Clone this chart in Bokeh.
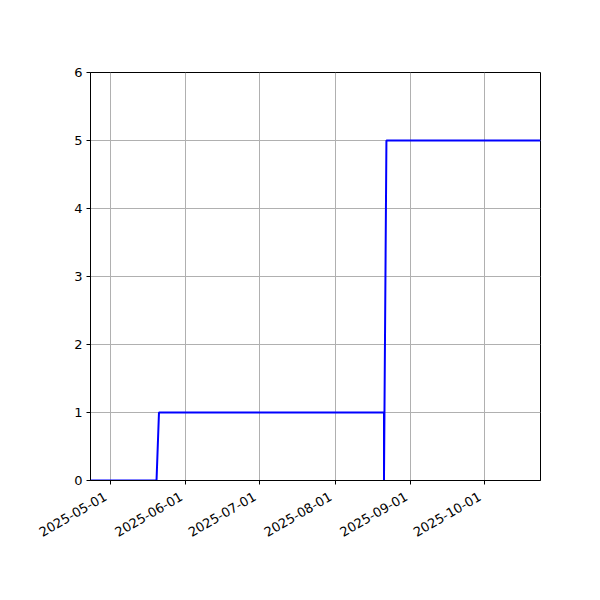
import math
from datetime import datetime
from bokeh.plotting import figure
from bokeh.models import Range1d, FixedTicker, LinearAxis
from bokeh.embed import file_html
from bokeh.resources import INLINE

# data
dates = ["2025-04-23", "2025-05-20", "2025-05-21", "2025-08-21",
         "2025-08-21", "2025-08-22", "2025-10-24"]
values = [0, 0, 1, 1, 0, 5, 5]
x_ticks = ["2025-05-01", "2025-06-01", "2025-07-01", "2025-08-01",
           "2025-09-01", "2025-10-01"]
y_ticks = [0, 1, 2, 3, 4, 5, 6]

xs = [datetime.strptime(d, "%Y-%m-%d") for d in dates]
tick_ms = [datetime.strptime(d, "%Y-%m-%d").timestamp() * 1000 for d in x_ticks]

p = figure(x_axis_type="datetime", x_axis_location=None,
           output_backend="svg", toolbar_location=None,
           frame_width=450, frame_height=408,
           min_border_left=90, min_border_top=72, min_border_right=40,
           min_border_bottom=100,
           x_range=Range1d(xs[0], xs[-1]), y_range=Range1d(0, 6))

p.line(xs, values, line_color="#0000ff", line_width=2)

p.background_fill_color = "white"
p.border_fill_color = "white"
p.outline_line_color = "black"
p.outline_line_width = 1
p.outline_line_alpha = 1

p.xgrid.ticker = FixedTicker(ticks=tick_ms)
for g in (p.xgrid, p.ygrid):
    g.grid_line_color = "#b0b0b0"
    g.grid_line_width = 1

# x tick marks only (drawn as unlabelled minor ticks)
tick_axis = LinearAxis(ticker=FixedTicker(ticks=[], minor_ticks=tick_ms))
tick_axis.axis_line_color = "black"
tick_axis.major_tick_line_color = None
tick_axis.minor_tick_line_color = "black"
tick_axis.minor_tick_in = 0
tick_axis.minor_tick_out = 4
tick_axis.major_label_standoff = 0
p.add_layout(tick_axis, "below")

# x tick labels, anchored like matplotlib's rotated right-aligned text
shift = 1.8 * 86400000
label_ticks = [t - shift for t in tick_ms]
lab_axis = LinearAxis(ticker=FixedTicker(ticks=label_ticks),
                      major_label_overrides={t: s for t, s in zip(label_ticks, x_ticks)})
lab_axis.axis_line_color = None
lab_axis.major_tick_line_color = None
lab_axis.minor_tick_line_color = None
lab_axis.major_tick_in = 0
lab_axis.major_tick_out = 0
lab_axis.major_label_orientation = math.pi / 6
lab_axis.major_label_text_font = "DejaVu Sans"
lab_axis.major_label_text_font_size = "13px"
lab_axis.major_label_text_color = "black"
lab_axis.major_label_standoff = 11
p.add_layout(lab_axis, "below")

ya = p.yaxis
ya.ticker = FixedTicker(ticks=y_ticks)
ya.axis_line_color = "black"
ya.major_tick_line_color = "black"
ya.major_tick_out = 4
ya.major_tick_in = 0
ya.minor_tick_line_color = None
ya.major_label_text_font = "DejaVu Sans"
ya.major_label_text_color = "black"
ya.major_label_text_font_size = "13px"
ya.major_label_standoff = 4

open("out.html", "w").write(file_html(p, INLINE))
